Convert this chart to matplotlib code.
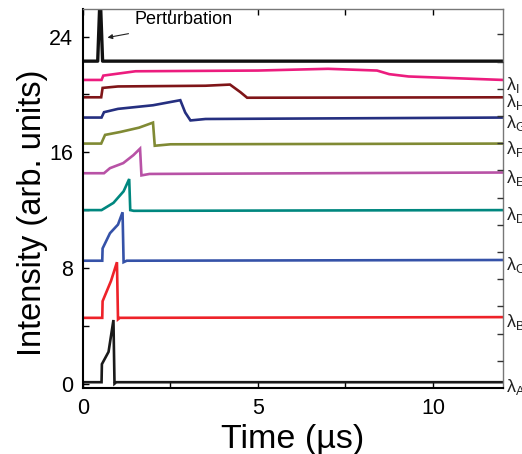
import matplotlib
matplotlib.use("Agg")
from matplotlib import pyplot as plt
from matplotlib.ticker import MultipleLocator

plt.rcParams['font.family'] = ['Liberation Sans', 'DejaVu Sans']
plt.rcParams['mathtext.fontset'] = 'custom'
plt.rcParams['mathtext.rm'] = 'Liberation Sans'
plt.rcParams['mathtext.it'] = 'Liberation Sans'

# time (us) / intensity key points, one trace per wavelength
t_A = [0, 0.53, 0.54, 0.73, 0.87, 0.90, 0.95, 12]
y_A = [0.1, 0.1, 1.35, 2.2, 4.4, 0.0, 0.1, 0.1]

t_B = [0, 0.55, 0.56, 0.80, 0.97, 1.00, 1.05, 12]
y_B = [4.55, 4.55, 5.7, 7.1, 8.4, 4.45, 4.55, 4.6]

t_C = [0, 0.55, 0.56, 0.77, 1.00, 1.13, 1.16, 1.25, 12]
y_C = [8.5, 8.5, 9.35, 10.4, 11.0, 11.85, 8.4, 8.5, 8.55]

t_D = [0, 0.53, 0.87, 1.16, 1.32, 1.35, 1.45, 12]
y_D = [12.0, 12.0, 12.5, 13.3, 14.15, 12.0, 11.95, 12.0]

t_E = [0, 0.60, 0.77, 1.15, 1.44, 1.63, 1.67, 1.90, 12]
y_E = [14.55, 14.55, 14.9, 15.25, 15.8, 16.25, 14.4, 14.5, 14.6]

t_F = [0, 0.52, 0.63, 1.06, 1.60, 2.00, 2.05, 2.50, 12]
y_F = [16.6, 16.6, 17.2, 17.4, 17.7, 18.05, 16.45, 16.55, 16.6]

t_G = [0, 0.53, 0.60, 1.00, 2.00, 2.78, 2.92, 3.07, 3.50, 12]
y_G = [18.4, 18.4, 18.77, 19.0, 19.25, 19.6, 18.75, 18.2, 18.3, 18.4]

t_H = [0, 0.52, 0.56, 1.00, 3.50, 4.20, 4.50, 4.69, 12]
y_H = [19.8, 19.8, 20.45, 20.55, 20.6, 20.68, 20.15, 19.77, 19.8]

t_I = [0, 0.53, 0.58, 1.50, 5.00, 7.00, 8.40, 8.75, 9.30, 12]
y_I = [21.0, 21.0, 21.3, 21.6, 21.65, 21.77, 21.65, 21.4, 21.24, 21.0]

t_P = [0, 0.42, 0.49, 0.56, 12]
y_P = [22.3, 22.3, 27.0, 22.3, 22.3]

names = ['A', 'B', 'C', 'D', 'E', 'F', 'G', 'H', 'I']
times = [t_A, t_B, t_C, t_D, t_E, t_F, t_G, t_H, t_I]
values = [y_A, y_B, y_C, y_D, y_E, y_F, y_G, y_H, y_I]
colors = ['#1a1a1a', '#ee2229', '#3552a8', '#00877f', '#b852a6',
          '#808a34', '#252f80', '#7f1518', '#ec1c7e']

fig = plt.figure(figsize=(5.22, 4.54), dpi=100)
ax = fig.add_axes([0.159, 0.1454, 0.8046, 0.8346])

for t, y, c in zip(times, values, colors):
    ax.plot(t, y, color=c, lw=1.9, solid_joinstyle='miter')
ax.plot(t_P, y_P, color='#111111', lw=2.4)

for name, y, c in zip(names, values, colors):
    ax.text(12.1, y[-1] - 0.35, r'$\lambda_{\mathrm{%s}}$' % name, fontsize=13,
            va='center', ha='left', color='#222222', clip_on=False)

ax.text(1.47, 25.2, 'Perturbation', fontsize=13, va='center', ha='left')
ax.annotate('', xy=(0.70, 23.93), xytext=(1.30, 24.2),
            arrowprops=dict(arrowstyle='-|>', lw=0.8, color='#222222',
                            mutation_scale=7, shrinkA=0, shrinkB=0))

ax.set_xlim(0, 12)
ax.set_ylim(-0.3, 25.9)
ax.set_xticks([0, 5, 10])
ax.xaxis.set_minor_locator(MultipleLocator(2.5))
ax.set_yticks([0, 8, 16, 24])
ax.yaxis.set_minor_locator(MultipleLocator(4))
ax.tick_params(which='both', direction='in', top=True, right=False,
               labelsize=15.5, length=4, width=1)
ax.tick_params(axis='x', pad=7)
ax.tick_params(axis='y', pad=7)

for side in ['top', 'right']:
    ax.spines[side].set_color('#777777')
    ax.spines[side].set_linewidth(1)
for side in ['left', 'bottom']:
    ax.spines[side].set_linewidth(1.5)

# right-hand axis carries its own evenly spaced ticks, no labels
ax2 = ax.twinx()
ax2.set_ylim(-1.0, 12.93)
ax2.set_yticks(range(0, 13))
ax2.tick_params(direction='in', length=4, width=1, labelright=False, color='#333333')
for s in ax2.spines.values():
    s.set_visible(False)

ax.set_xlabel('Time (µs)', fontsize=24.5, labelpad=4)
ax.set_ylabel('Intensity (arb. units)', fontsize=23.5)
ax.yaxis.set_label_coords(-0.084, 0.462)

fig.savefig('out.png', dpi=100)
